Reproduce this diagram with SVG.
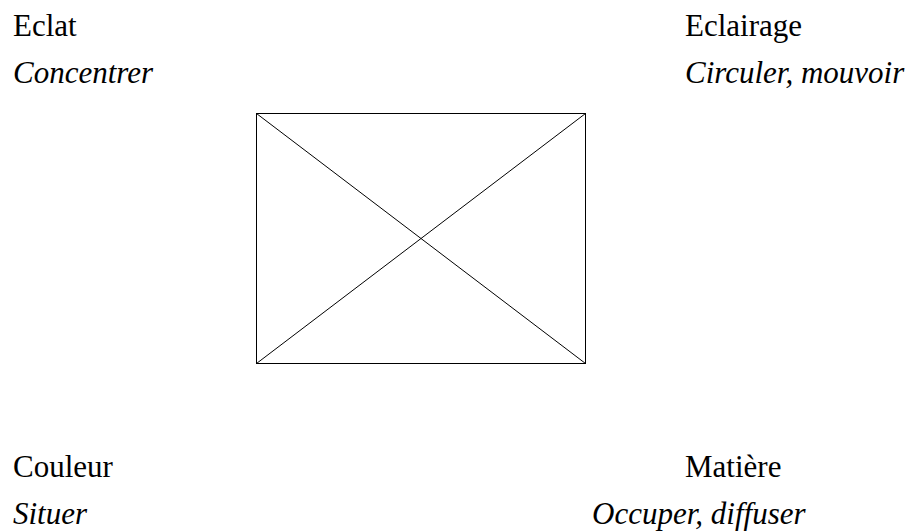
<svg xmlns="http://www.w3.org/2000/svg" width="920" height="531" viewBox="0 0 920 531">
<style>
text{font-family:'Liberation Serif','Tinos','DejaVu Serif',serif;font-size:31px;fill:#000}
.i{font-style:italic}
.s{fill:none;stroke:#000;stroke-width:1}
</style>
<rect width="920" height="531" fill="#fff"/>
<g id="box">
<rect class="s" x="256.5" y="113.5" width="329" height="250"/>
</g>
<g id="connectors">
<line class="s" x1="256.5" y1="113.5" x2="585.5" y2="363.5"/>
<line class="s" x1="585.5" y1="113.5" x2="256.5" y2="363.5"/>
</g>
<g id="eclat">
<text x="13" y="36" font-family="Liberation Serif, serif">Eclat</text>
<text class="i" x="13" y="83" font-family="Liberation Serif, serif">Concentrer</text>
</g>
<g id="eclairage">
<text x="685" y="36" font-family="Liberation Serif, serif">Eclairage</text>
<text class="i" x="685" y="83" font-family="Liberation Serif, serif">Circuler, mouvoir</text>
</g>
<g id="couleur">
<text x="13" y="477" font-family="Liberation Serif, serif">Couleur</text>
<text class="i" x="13" y="524" font-family="Liberation Serif, serif">Situer</text>
</g>
<g id="matiere">
<text x="685" y="477" font-family="Liberation Serif, serif">Matière</text>
<text class="i" x="592" y="524" font-family="Liberation Serif, serif">Occuper, diffuser</text>
</g>
</svg>
